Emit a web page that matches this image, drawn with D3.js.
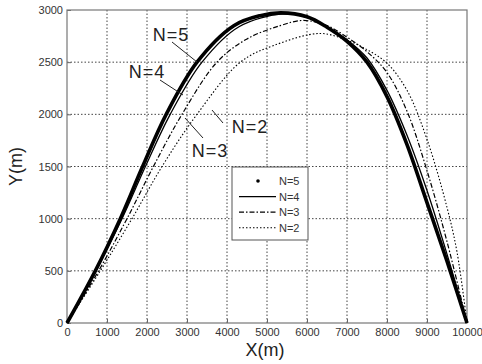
<!DOCTYPE html>
<html lang="en">
<head>
<meta charset="UTF-8">
<title>Trajectories</title>
<script src="https://d3js.org/d3.v7.min.js"></script>
<style>
  body { margin: 0; background: #fff; }
  text { font-family: Arial, "Liberation Sans", sans-serif; }
</style>
</head>
<body>
<script>
    // curve data, [x, y] in metres
    var n5 = [[0, 0], [708, 500], [1333, 1000], [1890, 1500], [2480, 2000], [3250, 2500], [4170, 2850], [4830, 2946], [5350, 2972],
        [6000, 2935], [6500, 2835], [7000, 2700], [7500, 2500], [8000, 2170], [8500, 1710], [9000, 1154], [9500, 592], [10000, 0]];
    var n4 = [[0, 0], [720, 500], [1375, 1000], [1960, 1500], [2580, 2000], [3375, 2500], [4300, 2840], [5400, 2962],
        [6000, 2930], [6500, 2840], [7000, 2715], [7500, 2540], [8000, 2230], [8500, 1800], [9000, 1270], [9500, 660], [10000, 0]];
    var n3 = [[0, 0], [790, 500], [1500, 1000], [2160, 1500], [2875, 2000], [3750, 2500], [4500, 2723], [5330, 2850], [5900, 2900],
        [6500, 2850], [7000, 2740], [7500, 2600], [8000, 2400], [8500, 2030], [9000, 1460], [9500, 780], [10000, 0]];
    var n2 = [[0, 0], [833, 500], [1625, 1000], [2375, 1500], [3250, 2000], [4333, 2500], [5170, 2660], [6330, 2775],
        [7000, 2710], [7500, 2620], [8000, 2490], [8500, 2230], [9000, 1760], [9500, 1108], [9750, 680], [10000, 0]];

    var xTicks = [0, 1000, 2000, 3000, 4000, 5000, 6000, 7000, 8000, 9000, 10000];
    var yTicks = [0, 500, 1000, 1500, 2000, 2500, 3000];
    var names = ["N=5", "N=4", "N=3", "N=2"];

    var width = 482;
    var height = 364;
    var margin = { top: 10, right: 15, bottom: 41, left: 67 };

    var svg = d3.select("body").append("svg")
        .attr("width", width)
        .attr("height", height);

    var x = d3.scaleLinear().domain([0, 10000]).range([margin.left, width - margin.right]);
    var y = d3.scaleLinear().domain([0, 3000]).range([height - margin.bottom, margin.top]);

    // dotted grid
    svg.append("g").selectAll("line").data(xTicks.slice(1, -1)).enter().append("line")
        .attr("x1", d => x(d)).attr("x2", d => x(d))
        .attr("y1", y(0)).attr("y2", y(3000))
        .attr("stroke", "#444").attr("stroke-width", 1).attr("stroke-dasharray", "1.5,2");
    svg.append("g").selectAll("line").data(yTicks.slice(1, -1)).enter().append("line")
        .attr("x1", x(0)).attr("x2", x(10000))
        .attr("y1", d => y(d)).attr("y2", d => y(d))
        .attr("stroke", "#444").attr("stroke-width", 1).attr("stroke-dasharray", "1.5,2");

    // axes, ticks pointing inwards
    var xAxis = d3.axisBottom(x).tickValues(xTicks).tickSize(-4).tickPadding(5).tickFormat(d3.format("d"));
    var yAxis = d3.axisLeft(y).tickValues(yTicks).tickSize(-4).tickPadding(4).tickFormat(d3.format("d"));
    var gx = svg.append("g").attr("transform", "translate(0," + y(0) + ")").call(xAxis);
    var gy = svg.append("g").attr("transform", "translate(" + x(0) + ",0)").call(yAxis);
    [gx, gy].forEach(function (g) {
        g.select(".domain").remove();
        g.selectAll("line").attr("stroke", "#666");
        g.selectAll("text").attr("fill", "#333").style("font-size", "11px");
    });

    // frame
    svg.append("rect")
        .attr("x", x(0)).attr("y", y(3000))
        .attr("width", x(10000) - x(0)).attr("height", y(0) - y(3000))
        .attr("fill", "none").attr("stroke", "#777").attr("stroke-width", 1.2);

    var line = d3.line().x(d => x(d[0])).y(d => y(d[1])).curve(d3.curveCatmullRom.alpha(0.5));

    var styles = [
        { data: n5, w: 3.6, dash: null },
        { data: n4, w: 1.3, dash: null },
        { data: n3, w: 1.2, dash: "5,2,1.5,2" },
        { data: n2, w: 1.1, dash: "1.5,2" }
    ];

    styles.slice().reverse().forEach(function (s) {
        svg.append("path")
            .attr("d", line(s.data))
            .attr("fill", "none")
            .attr("stroke", "#000")
            .attr("stroke-width", s.w)
            .attr("stroke-dasharray", s.dash);
    });

    // annotations with leader lines
    var notes = [
        { t: "N=5", tx: 171, ty: 41, l: [[172, 42], [197, 62]] },
        { t: "N=4", tx: 147, ty: 78, l: [[160, 80], [183, 95]] },
        { t: "N=3", tx: 210, ty: 157, l: [[203, 138], [185, 118]] },
        { t: "N=2", tx: 250, ty: 133, l: [[223, 123], [212, 110]] }
    ];
    notes.forEach(function (n) {
        svg.append("line")
            .attr("x1", n.l[0][0]).attr("y1", n.l[0][1])
            .attr("x2", n.l[1][0]).attr("y2", n.l[1][1])
            .attr("stroke", "#222").attr("stroke-width", 1);
        svg.append("text")
            .attr("x", n.tx).attr("y", n.ty)
            .attr("text-anchor", "middle")
            .attr("fill", "#222")
            .style("font-size", "18px")
            .style("letter-spacing", "1px")
            .text(n.t);
    });

    // legend
    var lg = svg.append("g").attr("transform", "translate(232,167)");
    lg.append("rect").attr("width", 76).attr("height", 73)
        .attr("fill", "#fff").attr("stroke", "#555").attr("stroke-width", 1);
    names.forEach(function (name, i) {
        var yy = 14 + i * 15.6;
        if (i === 0) {
            lg.append("circle").attr("cx", 26).attr("cy", yy).attr("r", 1.8).attr("fill", "#000");
        } else {
            lg.append("line")
                .attr("x1", 7).attr("x2", 44).attr("y1", yy).attr("y2", yy)
                .attr("stroke", "#000")
                .attr("stroke-width", styles[i].w)
                .attr("stroke-dasharray", styles[i].dash);
        }
        lg.append("text").attr("x", 47).attr("y", yy + 4)
            .attr("fill", "#333").style("font-size", "11px")
            .text(name);
    });

    // axis titles
    svg.append("text")
        .attr("x", 265).attr("y", 356)
        .attr("text-anchor", "middle").attr("fill", "#222")
        .style("font-size", "18px")
        .text("X(m)");
    svg.append("text")
        .attr("transform", "translate(22," + y(1500) + ") rotate(-90)")
        .attr("text-anchor", "middle").attr("fill", "#222")
        .style("font-size", "18px")
        .text("Y(m)");
</script>
</body>
</html>
